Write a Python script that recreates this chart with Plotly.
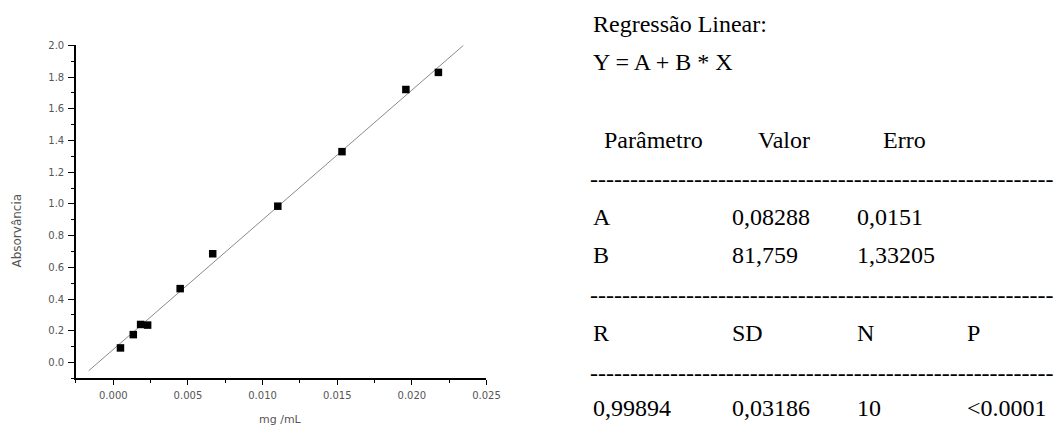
import plotly.graph_objects as go

W, H = 1059, 425

# ---- data ----
conc_mg_ml = [0.00048, 0.00134, 0.00183, 0.0023, 0.00448, 0.00666, 0.01102, 0.01532, 0.0196, 0.02178]
absorbance = [0.092, 0.176, 0.24, 0.236, 0.466, 0.686, 0.986, 1.33, 1.722, 1.83]
fit_A = 0.08288
fit_B = 81.759
fit_x_range = [-0.00165, 0.02348]

x_ticks = [0.0, 0.005, 0.010, 0.015, 0.020, 0.025]
y_ticks = [0.0, 0.2, 0.4, 0.6, 0.8, 1.0, 1.2, 1.4, 1.6, 1.8, 2.0]

header_lines = ["Regressão Linear:", "Y = A + B * X"]
param_header = ["Parâmetro", "Valor", "Erro"]
param_rows = [["A", "0,08288", "0,0151"], ["B", "81,759", "1,33205"]]
stat_header = ["R", "SD", "N", "P"]
stat_values = ["0,99894", "0,03186", "10", "<0.0001"]

# ---- layout geometry (pixels) ----
plot_l, plot_r, plot_t, plot_b = 77, 493, 40, 377.7


def px(x):
    return x / W


def py(y):
    return 1 - y / H


fig = go.Figure()
fit_y = [fit_A + fit_B * v for v in fit_x_range]
fig.add_trace(go.Scatter(x=fit_x_range, y=fit_y, mode="lines",
                         line=dict(color="#8a8a8a", width=1), cliponaxis=False,
                         showlegend=False, hoverinfo="skip"))
fig.add_trace(go.Scatter(x=conc_mg_ml, y=absorbance, mode="markers",
                         marker=dict(symbol="square", size=7.5, color="black"),
                         cliponaxis=False, showlegend=False))

tickfont = dict(family="DejaVu Sans", size=10, color="#555555")
fig.update_layout(
    width=W, height=H,
    margin=dict(l=0, r=0, t=0, b=0),
    paper_bgcolor="white", plot_bgcolor="white",
    xaxis=dict(domain=[px(plot_l), px(plot_r)], range=[-0.0025, 0.025],
               tickvals=x_ticks, tickformat=".3f", ticks="outside", ticklen=5,
               tickwidth=1, tickcolor="black",
               minor=dict(dtick=0.0025, ticks="outside", ticklen=3, tickcolor="black", showgrid=False),
               showline=True, linecolor="black", linewidth=1.5,
               showgrid=False, zeroline=False, tickfont=tickfont, ticklabelstandoff=2),
    yaxis=dict(domain=[py(plot_b), py(plot_t)], range=[-0.1, 2.0],
               tickvals=y_ticks, tickformat=".1f", ticks="outside", ticklen=6,
               tickwidth=1, tickcolor="black",
               minor=dict(dtick=0.1, ticks="outside", ticklen=3, tickcolor="black", showgrid=False),
               showline=True, linecolor="black", linewidth=1.5,
               showgrid=False, zeroline=False, tickfont=tickfont, ticklabelstandoff=2),
)

anns = []
titlefont = dict(family="DejaVu Sans", size=12, color="#555555")
anns.append(dict(text="Absorvância", x=px(17), y=py(228), textangle=-90, font=titlefont))
anns.append(dict(text="mg /mL", x=px(284), y=py(419), font=dict(family="DejaVu Sans", size=11, color="#555555")))

serif = dict(family="Liberation Serif, Times New Roman, serif", size=24, color="black")
xoff = 3


def txt(s, x, ycap, yoff=-4):
    anns.append(dict(text=s, x=px(x + xoff), y=py(ycap + yoff), xanchor="left", yanchor="middle", font=serif))


txt(header_lines[0], 596, 22)
txt(header_lines[1], 596, 61)
for s, x in zip(param_header, [607, 763, 890]):
    txt(s, x, 139.5)
dashes = "-" * 58
txt(dashes, 593, 179)
for row, yc in zip(param_rows, [218, 257]):
    for s, x in zip(row, [596, 737, 863]):
        txt(s, x, yc)
txt(dashes, 593, 297)
for s, x in zip(stat_header, [596, 737, 863, 975]):
    txt(s, x, 335.7)
txt(dashes, 593, 375, -3)
for s, x in zip(stat_values, [596, 737, 863, 975]):
    txt(s, x, 411, -3)

for a in anns:
    a.setdefault("xref", "paper")
    a.setdefault("yref", "paper")
    a["showarrow"] = False
    a.setdefault("xanchor", "center")
    a.setdefault("yanchor", "middle")
fig.update_layout(annotations=anns)

fig.write_html("out.html")
